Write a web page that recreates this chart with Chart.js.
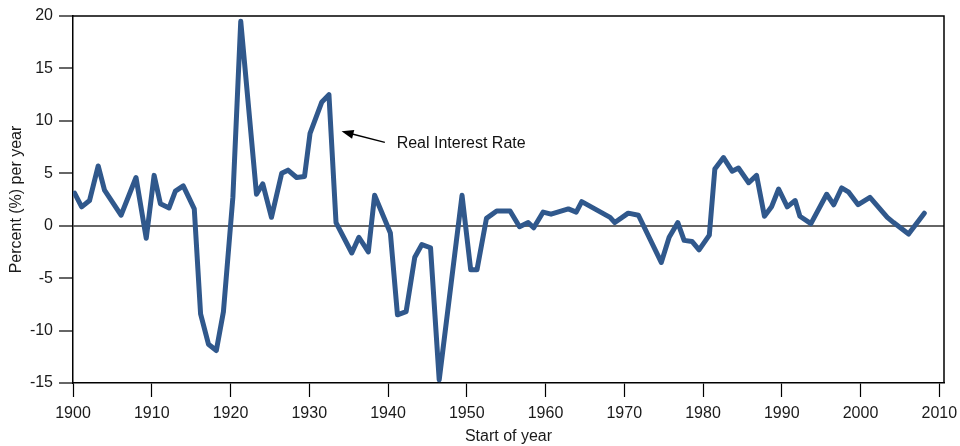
<!DOCTYPE html>
<html>
<head>
<meta charset="utf-8">
<script src="https://cdn.jsdelivr.net/npm/chart.js@4/dist/chart.umd.min.js"></script>
<style>
  html, body { margin: 0; padding: 0; background: #fff; }
  #wrap { width: 960px; height: 446px; }
</style>
</head>
<body>
<div id="wrap"><canvas id="rateChart" width="960" height="446"></canvas></div>
<script>
// positions (decimal years)
var dates = [1900.2, 1901.1, 1902.1, 1903.2, 1904.0, 1906.1, 1908.0, 1909.3, 1910.3, 1911.1,
  1912.2, 1913.0, 1914.0, 1915.4, 1916.2, 1917.2, 1918.2, 1919.1, 1920.3, 1921.3,
  1923.3, 1924.1, 1925.2, 1926.5, 1927.3, 1928.4, 1929.4, 1930.1, 1931.6, 1932.5,
  1933.4, 1935.4, 1936.3, 1937.5, 1938.3, 1940.3, 1941.2, 1942.3, 1943.4, 1944.3,
  1945.4, 1946.5, 1949.4, 1950.5, 1951.3, 1952.5, 1953.8, 1955.5, 1956.7, 1957.8,
  1958.5, 1959.7, 1960.7, 1962.9, 1963.9, 1964.6, 1968.2, 1968.8, 1970.5, 1971.8,
  1974.7, 1975.7, 1976.8, 1977.6, 1978.6, 1979.5, 1980.8, 1981.5, 1982.6, 1983.7,
  1984.5, 1985.8, 1986.8, 1987.8, 1988.7, 1989.6, 1990.7, 1991.7, 1992.3, 1993.7,
  1995.7, 1996.6, 1997.6, 1998.5, 1999.7, 2001.2, 2003.4, 2004.2, 2006.1, 2008.1];
var realRate = [3.1, 1.8, 2.4, 5.7, 3.4, 1.0, 4.6, -1.2, 4.8, 2.1,
  1.7, 3.3, 3.8, 1.6, -8.4, -11.3, -11.9, -8.2, 2.7, 19.5,
  3.0, 4.0, 0.8, 5.0, 5.3, 4.6, 4.7, 8.8, 11.8, 12.5,
  0.3, -2.6, -1.1, -2.5, 2.9, -0.7, -8.5, -8.2, -3.0, -1.8,
  -2.1, -14.7, 2.9, -4.2, -4.2, 0.7, 1.4, 1.4, -0.1, 0.3,
  -0.2, 1.3, 1.1, 1.6, 1.3, 2.3, 0.8, 0.3, 1.2, 1.0,
  -3.5, -1.1, 0.3, -1.4, -1.5, -2.3, -0.9, 5.4, 6.5, 5.2,
  5.5, 4.1, 4.8, 0.9, 1.8, 3.5, 1.8, 2.4, 0.9, 0.2,
  3.0, 2.0, 3.6, 3.2, 2.0, 2.7, 0.8, 0.3, -0.8, 1.2];
var xTicks = [1900, 1910, 1920, 1930, 1940, 1950, 1960, 1970, 1980, 1990, 2000, 2010];
var yTicks = [-15, -10, -5, 0, 5, 10, 15, 20];

// annotation in data units: arrow tip, arrow tail, label start
var noteText = 'Real Interest Rate';
var arrowTip = [1934.1, 9.0];
var arrowTail = [1939.6, 7.95];
var notePos = [1941.1, 7.85];

var points = dates.map(function (d, i) { return { x: d, y: realRate[i] }; });

var frame = {
  id: 'frame',
  afterDraw: function (chart) {
    var c = chart.ctx, a = chart.chartArea;
    var xs = chart.scales.x, ys = chart.scales.y;
    c.save();
    c.strokeStyle = '#000';
    c.lineWidth = 1.5;
    c.beginPath();
    c.moveTo(a.left, a.top);
    c.lineTo(a.right, a.top);
    c.lineTo(a.right, a.bottom);
    c.stroke();

    // arrow
    var tx = xs.getPixelForValue(arrowTip[0]), ty = ys.getPixelForValue(arrowTip[1]);
    var fx = xs.getPixelForValue(arrowTail[0]), fy = ys.getPixelForValue(arrowTail[1]);
    var ang = Math.atan2(ty - fy, tx - fx);
    c.lineWidth = 1.5;
    c.beginPath();
    c.moveTo(fx, fy);
    c.lineTo(tx - 8 * Math.cos(ang), ty - 8 * Math.sin(ang));
    c.stroke();
    c.fillStyle = '#000';
    c.beginPath();
    c.moveTo(tx, ty);
    c.lineTo(tx - 12 * Math.cos(ang) + 4.5 * Math.sin(ang), ty - 12 * Math.sin(ang) - 4.5 * Math.cos(ang));
    c.lineTo(tx - 12 * Math.cos(ang) - 4.5 * Math.sin(ang), ty - 12 * Math.sin(ang) + 4.5 * Math.cos(ang));
    c.closePath();
    c.fill();

    c.font = '16px "Liberation Sans", Arial, sans-serif';
    c.fillStyle = '#111';
    c.textBaseline = 'middle';
    c.fillText(noteText, xs.getPixelForValue(notePos[0]), ys.getPixelForValue(notePos[1]));
    c.restore();
  }
};

var font = { family: '"Liberation Sans", Arial, sans-serif', size: 16 };

var myChart = new Chart(document.getElementById('rateChart'), {
  type: 'line',
  data: {
    datasets: [{
      data: points,
      borderColor: '#30588c',
      borderWidth: 5,
      borderJoinStyle: 'round',
      borderCapStyle: 'round',
      pointRadius: 0,
      fill: false,
      tension: 0
    }]
  },
  options: {
    responsive: false,
    animation: false,
    layout: { padding: { top: 16, right: 16, left: 0, bottom: 0 } },
    plugins: { legend: { display: false }, tooltip: { enabled: false } },
    scales: {
      x: {
        type: 'linear',
        min: 1900,
        max: 2010.6,
        afterBuildTicks: function (s) { s.ticks = xTicks.map(function (v) { return { value: v }; }); },
        afterFit: function (s) { s.height = 63; s.paddingRight = 0; },
        border: { display: true, color: '#000', width: 1.5 },
        grid: { drawOnChartArea: false, color: '#000', tickColor: '#000', tickLength: 14, tickWidth: 1.2 },
        ticks: { font: font, color: '#1a1a1a', padding: 7, maxRotation: 0,
          callback: function (v) { return String(v); } },
        title: { display: true, text: 'Start of year', font: font, color: '#1a1a1a', padding: { top: 0, bottom: 0 } }
      },
      y: {
        min: -15,
        max: 20,
        afterBuildTicks: function (s) { s.ticks = yTicks.map(function (v) { return { value: v }; }); },
        afterFit: function (s) { s.width = 73; },
        border: { display: true, color: '#000', width: 1.5 },
        grid: {
          color: function (c) { return c.tick && c.tick.value === 0 ? '#666' : 'rgba(0,0,0,0)'; },
          lineWidth: 2,
          tickColor: '#000',
          tickLength: 14,
          tickWidth: 1.2
        },
        ticks: { font: font, color: '#1a1a1a', padding: 6 },
        title: { display: true, text: 'Percent (%) per year', font: font, color: '#1a1a1a', padding: { top: 7, bottom: 0 } }
      }
    }
  },
  plugins: [frame]
});
</script>
</body>
</html>
